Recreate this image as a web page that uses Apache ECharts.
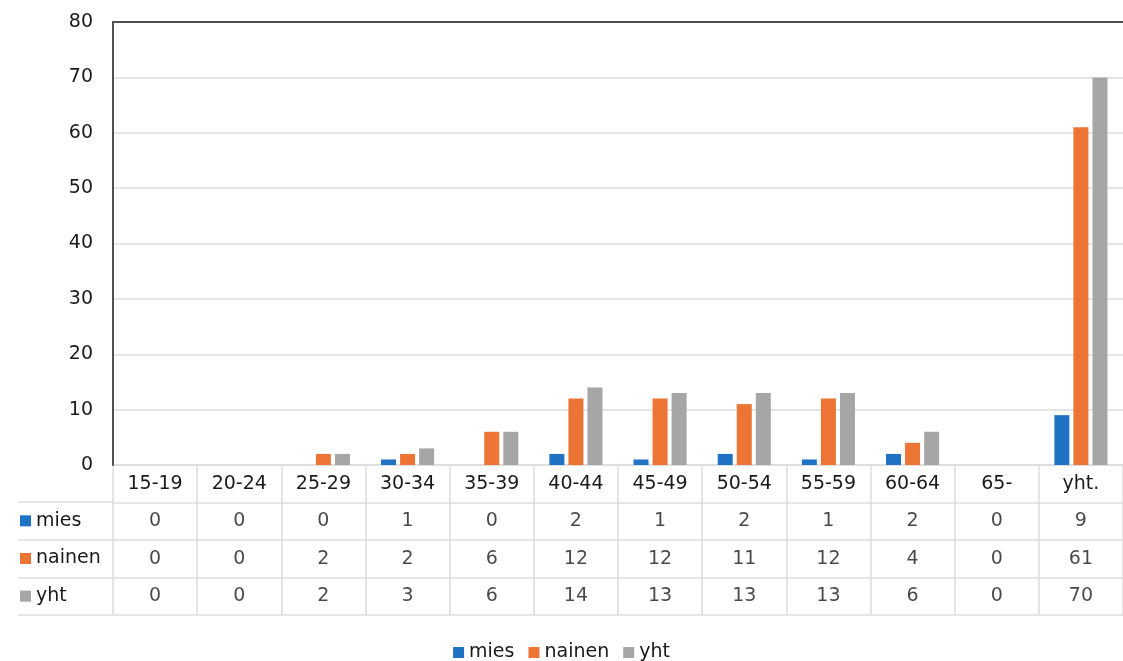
<!DOCTYPE html>
<html>
<head>
<meta charset="utf-8">
<script src="https://cdn.jsdelivr.net/npm/echarts@6/dist/echarts.min.js"></script>
<style>
  html, body { margin: 0; padding: 0; background: #fff; }
  #chart { width: 1123px; height: 661px; }
</style>
</head>
<body>
<div id="chart"></div>
<script>
// age groups + total column
const categories = ['15-19', '20-24', '25-29', '30-34', '35-39', '40-44', '45-49', '50-54', '55-59', '60-64', '65-', 'yht.'];
const seriesNames = ['mies', 'nainen', 'yht'];
const mies = [0, 0, 0, 1, 0, 2, 1, 2, 1, 2, 0, 9];
const nainen = [0, 0, 2, 2, 6, 12, 12, 11, 12, 4, 0, 61];
const yht = [0, 0, 2, 3, 6, 14, 13, 13, 13, 6, 0, 70];
const yTicks = [0, 10, 20, 30, 40, 50, 60, 70, 80];

const colors = { mies: '#1f72c4', nainen: '#ec7434', yht: '#a6a6a6' };
const font = 'DejaVu Sans';
const textColor = '#1a1a1a';
const gridColor = '#dcdcdc';

const chart = echarts.init(document.getElementById('chart'));

// table rows, bottom to top (category y axis starts at bottom)
const tableRows = ['yht', 'nainen', 'mies', 'hdr'];
const rowValues = { mies: mies, nainen: nainen, yht: yht };
const tableData = [];
seriesNames.forEach(name => {
  rowValues[name].forEach((v, i) => tableData.push([i, name, v]));
});

const rich = { t: { fontFamily: font, fontSize: 19, color: textColor, padding: [0, 0, 0, 5] } };
seriesNames.forEach(n => {
  rich[n] = { width: 11, height: 11, backgroundColor: colors[n] };
});

const option = {
  animation: false,
  textStyle: { fontFamily: font },
  legend: {
    data: seriesNames,
    top: 643,
    left: 'center',
    itemWidth: 11,
    itemHeight: 11,
    itemGap: 14,
    padding: 0,
    icon: 'rect',
    textStyle: { fontFamily: font, fontSize: 19, color: textColor }
  },
  grid: [
    { left: 113, top: 22, width: 1014, height: 443 },   // plot
    { left: 113, top: 465, width: 1014, height: 150 },  // data table cells
    { left: 18, top: 502, width: 95, height: 113 }      // row labels
  ],
  xAxis: [
    {
      gridIndex: 0,
      type: 'category',
      data: categories,
      axisLine: { show: false },
      axisTick: { show: false },
      axisLabel: { fontFamily: font, fontSize: 19, color: textColor, margin: 10, interval: 0 }
    },
    {
      // top border of plot
      gridIndex: 0,
      type: 'category',
      data: categories,
      position: 'top',
      axisLine: { show: true, lineStyle: { color: '#505050', width: 2 } },
      axisTick: { show: false },
      axisLabel: { show: false }
    },
    {
      gridIndex: 1,
      type: 'category',
      data: categories,
      axisLine: { show: false },
      axisTick: { show: false },
      axisLabel: { show: false },
      splitLine: { show: true, interval: 0, lineStyle: { color: gridColor, width: 1.5 } }
    },
    {
      gridIndex: 2,
      type: 'value',
      show: false
    }
  ],
  yAxis: [
    {
      gridIndex: 0,
      type: 'value',
      min: 0,
      max: 80,
      interval: 10,
      axisLine: { show: true, lineStyle: { color: '#505050', width: 2 } },
      axisTick: { show: false },
      axisLabel: { fontFamily: font, fontSize: 19, color: textColor, margin: 20 },
      splitLine: { lineStyle: { color: gridColor, width: 1.5 } }
    },
    {
      gridIndex: 1,
      type: 'category',
      data: tableRows,
      axisLine: { show: false },
      axisTick: { show: false },
      axisLabel: { show: false },
      splitLine: { show: true, interval: 0, lineStyle: { color: gridColor, width: 1.5 } }
    },
    {
      gridIndex: 2,
      type: 'category',
      data: ['yht', 'nainen', 'mies'],
      axisLine: { show: false },
      axisTick: { show: false },
      axisLabel: {
        inside: true,
        margin: 2,
        formatter: v => '{' + v + '|}{t|' + v + '}',
        rich: rich
      },
      splitLine: { show: true, interval: 0, lineStyle: { color: gridColor, width: 1.5 } }
    }
  ],
  series: [
    ...seriesNames.map(name => ({
      name: name,
      type: 'bar',
      xAxisIndex: 0,
      yAxisIndex: 0,
      barWidth: 15,
      barGap: '27%',
      itemStyle: { color: colors[name] },
      data: rowValues[name]
    })),
    {
      type: 'scatter',
      xAxisIndex: 2,
      yAxisIndex: 1,
      symbolSize: 0,
      silent: true,
      label: {
        show: true,
        position: 'inside',
        formatter: p => String(p.value[2]),
        fontFamily: font,
        fontSize: 19,
        color: textColor
      },
      data: tableData
    }
  ]
};

chart.setOption(option);
</script>
</body>
</html>
